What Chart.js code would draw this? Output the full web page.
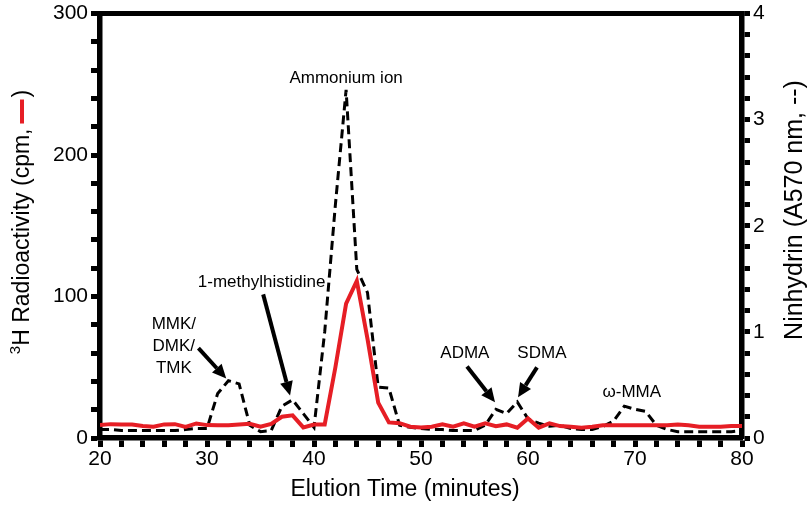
<!DOCTYPE html>
<html><head><meta charset="utf-8">
<script src="https://cdn.jsdelivr.net/npm/chart.js@4.4.1/dist/chart.umd.min.js"></script>
<style>html,body{margin:0;padding:0;background:#fff;}#wrap{width:812px;height:510px;}</style>
</head><body><div id="wrap"><canvas id="c" width="812" height="510"></canvas></div>
<script>
const elutionTime = [20,21,22,23,24,25,26,27,28,29,30,31,32,33,34,35,36,37,38,39,40,41,42,43,44,45,46,47,48,49,50,51,52,53,54,55,56,57,58,59,60,61,62,63,64,65,66,67,68,69,70,71,72,73,74,75,76,77,78,79,80];
const radioactivityCpm = [9.1,9.8,9.6,9.6,8.5,7.9,9.6,9.8,7.9,10.3, 9.1,9,9,9.5,10,8,10,15,16,7.5, 9.5,9.6,50,95,111,70,25,11,10.5,8, 7.5,8,9.6,8,10.3,8,10.3,8.4,9.6,7.3, 13.8,7.3,10.3,8.4,8,7.3,8,9,9,9, 9,9,9,9,9.6,9,8,8,8,8.4, 8.4];
const ninhydrinA570 = [0.08,0.08,0.07,0.07,0.07,0.07,0.07,0.07,0.08,0.09, 0.09,0.42,0.54,0.51,0.12,0.06,0.07,0.30,0.36,0.23, 0.10,1.00,2.20,3.28,1.59,1.37,0.48,0.47,0.12,0.10, 0.09,0.08,0.08,0.07,0.07,0.07,0.12,0.27,0.23,0.34, 0.18,0.14,0.11,0.12,0.09,0.08,0.08,0.11,0.16,0.30, 0.27,0.25,0.12,0.08,0.06,0.06,0.06,0.06,0.06,0.06, 0.07];
const xMajorTicks = [20,30,40,50,60,70,80];
const leftMajorTicks = [0,100,200,300];
const rightMajorTicks = [0,1,2,3,4];
const peakLabels = ['Ammonium ion','1-methylhistidine','MMK/\nDMK/\nTMK','ADMA','SDMA','\u03c9-MMA'];

const RED = '#e61e25';
const FONT = '"Liberation Sans", Arial, Helvetica, sans-serif';

// annotation placement (data coordinates: x = minutes, y = left axis cpm)
const annotations = [
  {label:0, x:43.0, y:254, arrow:null},
  {label:1, x:35.1, y:110, arrow:[35.25,101.5,37.76,30]},
  {label:2, x:26.9, y:64.6, lineGap:22, arrow:[29.2,63.5,31.8,42]},
  {label:3, x:54.1, y:59.7, arrow:[54.3,50.6,56.92,25.3]},
  {label:4, x:61.3, y:59.7, arrow:[60.84,49.9,59.07,28.8]},
  {label:5, x:69.7, y:32.3, arrow:null}
];

function drawArrow(ctx, x1, y1, x2, y2){
  const ang = Math.atan2(y2-y1, x2-x1);
  const hl = 14, hw = 6.5;
  const bx = x2 - hl*Math.cos(ang), by = y2 - hl*Math.sin(ang);
  ctx.beginPath(); ctx.moveTo(x1,y1); ctx.lineTo(bx,by); ctx.lineWidth=4; ctx.strokeStyle='#000'; ctx.stroke();
  ctx.beginPath();
  ctx.moveTo(x2,y2);
  ctx.lineTo(bx + hw*Math.sin(ang), by - hw*Math.cos(ang));
  ctx.lineTo(bx - hw*Math.sin(ang), by + hw*Math.cos(ang));
  ctx.closePath(); ctx.fillStyle='#000'; ctx.fill();
}

const overlay = {
  id:'overlay',
  afterDraw(chart){
    const {ctx, chartArea:a, scales} = chart;
    const sx = scales.x, sy = scales.y;
    ctx.save();
    // top frame line
    ctx.beginPath(); ctx.moveTo(a.left, a.top); ctx.lineTo(a.right, a.top);
    ctx.lineWidth = 5; ctx.strokeStyle = '#000'; ctx.lineCap='square'; ctx.stroke();
    ctx.lineCap='butt';

    // left title
    ctx.save();
    ctx.translate(21, 222); ctx.rotate(-Math.PI/2);
    ctx.textBaseline = 'alphabetic'; ctx.fillStyle = '#000';
    const big = '23px ' + FONT, small = '15px ' + FONT;
    const p1 = 'H Radioactivity (cpm,', p3 = ')';
    ctx.font = small; const w0 = ctx.measureText('3').width;
    ctx.font = big; const w1 = ctx.measureText(p1).width; const w3 = ctx.measureText(p3).width;
    const dashW = 24, gap = 5;
    const total = w0 + w1 + gap + dashW + 2 + w3;
    let cx = -total/2; const base = 8;
    ctx.font = small; ctx.fillText('3', cx, base-9); cx += w0;
    ctx.font = big; ctx.fillText(p1, cx, base); cx += w1 + gap;
    ctx.fillStyle = RED; ctx.fillRect(cx, base-9, dashW, 4); cx += dashW + 2;
    ctx.fillStyle = '#000'; ctx.fillText(p3, cx, base);
    ctx.restore();

    // right title
    ctx.save();
    ctx.translate(795, 210); ctx.rotate(-Math.PI/2);
    ctx.font = '25px ' + FONT; ctx.textAlign='center'; ctx.textBaseline='middle'; ctx.fillStyle='#000';
    ctx.fillText('Ninhydrin (A570 nm, --)', 0, 0);
    ctx.restore();

    // bottom title
    ctx.font = '23px ' + FONT; ctx.textAlign='center'; ctx.textBaseline='middle'; ctx.fillStyle='#000';
    ctx.fillText('Elution Time (minutes)', 405, 490);

    // annotations
    ctx.font = '17px ' + FONT; ctx.textAlign = 'center'; ctx.textBaseline = 'middle'; ctx.fillStyle = '#000';
    annotations.forEach(an => {
      const px = sx.getPixelForValue(an.x), py = sy.getPixelForValue(an.y);
      const lines = peakLabels[an.label].split('\n');
      const g = an.lineGap || 20;
      lines.forEach((ln, i) => ctx.fillText(ln, px, py + (i - (lines.length-1)/2)*g));
      if (an.arrow){
        const [x1,y1,x2,y2] = an.arrow;
        drawArrow(ctx, sx.getPixelForValue(x1), sy.getPixelForValue(y1), sx.getPixelForValue(x2), sy.getPixelForValue(y2));
      }
    });
    ctx.restore();
  }
};

const tickFont = {family: FONT, size: 21, lineHeight: 1.0};
const gridOpts = {display:true, drawOnChartArea:false, drawTicks:true, tickLength:9, tickWidth:5, tickColor:'#000'};

new Chart(document.getElementById('c'), {
  type:'line',
  data:{
    datasets:[
      {label:'3H Radioactivity (cpm)', data: elutionTime.map((t,i)=>({x:t, y:radioactivityCpm[i]})),
       yAxisID:'y', borderColor:RED, borderWidth:4, pointRadius:0, tension:0, fill:false, order:0},
      {label:'Ninhydrin (A570 nm)', data: elutionTime.map((t,i)=>({x:t, y:ninhydrinA570[i]})),
       yAxisID:'y2', borderColor:'#000', borderWidth:3, borderDash:[9,5], pointRadius:0, tension:0, fill:false, order:1}
    ]
  },
  options:{
    responsive:false, animation:false, devicePixelRatio:1,
    layout:{padding:{top:11, left:0, right:0, bottom:0}},
    plugins:{legend:{display:false}, tooltip:{enabled:false}},
    scales:{
      x:{type:'linear', min:20, max:80, position:'bottom',
         ticks:{stepSize:2, autoSkip:false, maxRotation:0, color:'#000', font:tickFont, padding:2,
                callback:v => xMajorTicks.includes(Math.round(v)) && Math.abs(v-Math.round(v))<1e-6 ? String(Math.round(v)) : ''},
         grid:gridOpts, border:{display:true, width:5.5, color:'#000'},
         afterFit(s){ s.height = 72; }},
      y:{type:'linear', min:0, max:300, position:'left',
         ticks:{stepSize:20, autoSkip:false, color:'#000', font:tickFont, padding:3,
                callback:v => leftMajorTicks.includes(Math.round(v)) ? String(Math.round(v)) : ''},
         grid:gridOpts, border:{display:true, width:5.5, color:'#000'},
         afterFit(s){ s.width = 100; }},
      y2:{type:'linear', min:0, max:4, position:'right',
         ticks:{stepSize:0.2, autoSkip:false, color:'#000', font:tickFont, padding:3,
                callback:v => (Math.abs(v-Math.round(v))<1e-6 && rightMajorTicks.includes(Math.round(v))) ? String(Math.round(v)) : ''},
         grid:Object.assign({}, gridOpts, {tickLength:8}), border:{display:true, width:5.5, color:'#000'},
         afterFit(s){ s.width = 70; }}
    }
  },
  plugins:[overlay]
});
</script></body></html>
